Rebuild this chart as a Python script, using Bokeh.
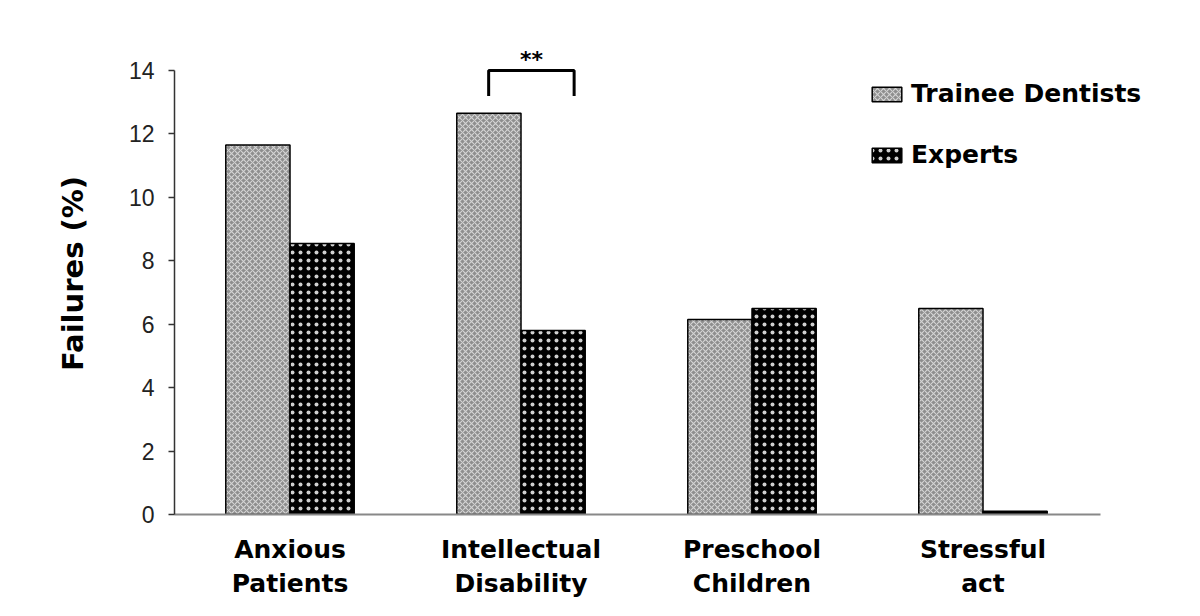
from bokeh.plotting import figure
from bokeh.models import ColumnDataSource, Range1d, FixedTicker, Legend, LegendItem, Label
from bokeh.embed import file_html
from bokeh.resources import INLINE

categories = ["Anxious\nPatients", "Intellectual\nDisability", "Preschool\nChildren", "Stressful\nact"]
trainee = [11.65, 12.65, 6.15, 6.5]
experts = [8.55, 5.8, 6.5, 0.1]
y_ticks = [0, 2, 4, 6, 8, 10, 12, 14]
series_names = ["Trainee Dentists", "Experts"]
sig_bracket_x = [1.36, 1.73]
sig_bracket_y = [13.2, 14.0]
sig_text = "**"

FONT = "Liberation Sans"
BFONT = "DejaVu Sans"
bw = 0.278
centers = [i + 0.5 for i in range(len(categories))]

p = figure(width=1184, height=600, output_backend="svg", toolbar_location=None,
           x_range=Range1d(0, 976 / 231), y_range=Range1d(0, 15.2),
           frame_width=976, frame_height=482,
           min_border_left=174, min_border_top=32, min_border_right=34, min_border_bottom=86)
p.outline_line_color = None
p.grid.grid_line_color = None
p.background_fill_color = "white"

src_t = ColumnDataSource(dict(x=[c - bw / 2 for c in centers], top=trainee))
src_e = ColumnDataSource(dict(x=[c + bw / 2 for c in centers], top=experts))

r_t = p.vbar(x="x", top="top", bottom=0, width=bw, source=src_t,
             fill_color="#8e8e8e", line_color="black", line_width=1.5,
             hatch_pattern="diagonal_cross", hatch_color="#d4d4d4", hatch_scale=6, hatch_weight=1.1)
r_e = p.vbar(x="x", top="top", bottom=0, width=bw, source=src_e,
             fill_color="black", line_color="black", line_width=1.5,
             hatch_pattern="dot", hatch_color="#d0d0d0", hatch_scale=8, hatch_weight=1.5)

# significance bracket
bx0, bx1 = sig_bracket_x
by0, by1 = sig_bracket_y
p.line(x=[bx0, bx0, bx1, bx1], y=[by0, by1, by1, by0], line_color="black", line_width=3)
p.add_layout(Label(x=(bx0 + bx1) / 2, y=by1 - 0.05, text=sig_text, text_align="center",
                   text_baseline="bottom", text_font=BFONT, text_font_style="bold",
                   text_font_size="22px", text_color="black"))

# axes
xa = p.xaxis[0]
xa.ticker = FixedTicker(ticks=centers)
xa.major_label_overrides = {c: lab for c, lab in zip(centers, categories)}
xa.major_tick_line_color = None
xa.axis_line_color = "#888888"
xa.axis_line_width = 2
xa.major_label_text_font = BFONT
xa.major_label_text_font_style = "bold"
xa.major_label_text_font_size = "25px"
xa.major_label_text_color = "black"
xa.major_label_standoff = 14
xa.minor_tick_line_color = None
xa.bounds = (0, 4.01)

ya = p.yaxis[0]
ya.ticker = FixedTicker(ticks=y_ticks)
ya.bounds = (0, 14)
ya.axis_line_color = "#333333"
ya.axis_line_width = 1.5
ya.major_tick_line_color = "#333333"
ya.major_tick_line_width = 1.5
ya.major_tick_out = 6
ya.major_tick_in = 0
ya.minor_tick_line_color = None
ya.major_label_text_font = FONT
ya.major_label_text_font_size = "23px"
ya.major_label_text_color = "#222222"
ya.major_label_standoff = 14
ya.axis_label = "Failures (%)"
ya.axis_label_text_font = BFONT
ya.axis_label_text_font_style = "bold"
ya.axis_label_text_font_size = "29px"
ya.axis_label_text_color = "black"
ya.axis_label_standoff = 36

legend = Legend(items=[LegendItem(label=series_names[0], renderers=[r_t]),
                       LegendItem(label=series_names[1], renderers=[r_e])],
                location=(694, 345), orientation="vertical",
                glyph_width=37, glyph_height=18, label_standoff=6, spacing=32,
                padding=0, margin=0, border_line_color=None, background_fill_alpha=0,
                label_text_font=BFONT, label_text_font_style="bold",
                label_text_font_size="25px", label_text_color="black")
p.add_layout(legend, "center")

open("out.html", "w").write(file_html(p, INLINE))
